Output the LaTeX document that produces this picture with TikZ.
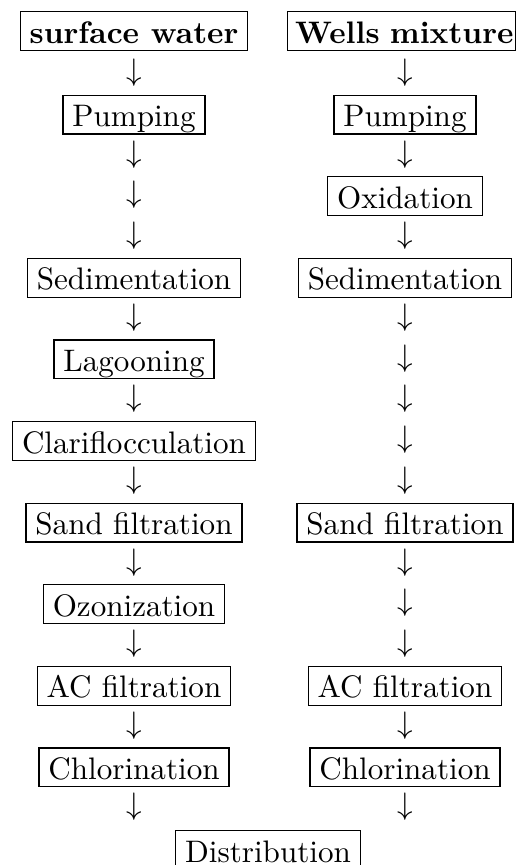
\documentclass[tikz,border=0pt]{standalone}
\begin{document}
\begin{tikzpicture}[x=0.3215pt,y=-0.3215pt,
  stagebox/.style={draw=black,line width=0.4pt,inner xsep=3pt,inner ysep=1.73pt,
    text height=8.4pt,text depth=0.6pt,font=\fontsize{10}{12}\selectfont},
  downarrow/.style={inner sep=0pt,font=\fontsize{10}{12}\selectfont}]
\useasboundingbox (0,0) rectangle (518,865);
% left column (surface water)
\node[stagebox] (L0) at (134,31) {\textbf{surface water}};
\node[downarrow] (L1) at (134,72.8) {$\downarrow$};
\node[stagebox] (L2) at (134,114.6) {Pumping};
\node[downarrow] (L3) at (134,154.4) {$\downarrow$};
\node[downarrow] (L4) at (134,195.2) {$\downarrow$};
\node[downarrow] (L5) at (134,236) {$\downarrow$};
\node[stagebox] (L6) at (134,277.8) {Sedimentation};
\node[downarrow] (L7) at (134,317.6) {$\downarrow$};
\node[stagebox] (L8) at (134,359.4) {Lagooning};
\node[downarrow] (L9) at (134,399.2) {$\downarrow$};
\node[stagebox] (L10) at (134,441) {Clariflocculation};
\node[downarrow] (L11) at (134,480.8) {$\downarrow$};
\node[stagebox] (L12) at (134,522.6) {Sand filtration};
\node[downarrow] (L13) at (134,562.4) {$\downarrow$};
\node[stagebox] (L14) at (134,604.2) {Ozonization};
\node[downarrow] (L15) at (134,644) {$\downarrow$};
\node[stagebox] (L16) at (134,685.8) {AC filtration};
\node[downarrow] (L17) at (134,725.6) {$\downarrow$};
\node[stagebox] (L18) at (134,767.4) {Chlorination};
\node[downarrow] (L19) at (134,807.2) {$\downarrow$};
% right column (wells mixture)
\node[stagebox,inner xsep=0.6pt,text width=72pt,align=right] (R0) at (401.5,31) {\textbf{Wells mixture}};
\node[downarrow] (R1) at (405,72.8) {$\downarrow$};
\node[stagebox] (R2) at (405,114.6) {Pumping};
\node[downarrow] (R3) at (405,154.4) {$\downarrow$};
\node[stagebox] (R4) at (405,196.2) {Oxidation};
\node[downarrow] (R5) at (405,236) {$\downarrow$};
\node[stagebox] (R6) at (405,277.8) {Sedimentation};
\node[downarrow] (R7) at (405,317.6) {$\downarrow$};
\node[downarrow] (R8) at (405,358.4) {$\downarrow$};
\node[downarrow] (R9) at (405,399.2) {$\downarrow$};
\node[downarrow] (R10) at (405,440) {$\downarrow$};
\node[downarrow] (R11) at (405,480.8) {$\downarrow$};
\node[stagebox] (R12) at (405,522.6) {Sand filtration};
\node[downarrow] (R13) at (405,562.4) {$\downarrow$};
\node[downarrow] (R14) at (405,603.2) {$\downarrow$};
\node[downarrow] (R15) at (405,644) {$\downarrow$};
\node[stagebox] (R16) at (405,685.8) {AC filtration};
\node[downarrow] (R17) at (405,725.6) {$\downarrow$};
\node[stagebox] (R18) at (405,767.4) {Chlorination};
\node[downarrow] (R19) at (405,807.2) {$\downarrow$};
% common end
\node[stagebox] (D) at (268,850) {Distribution};
\end{tikzpicture}
\end{document}
